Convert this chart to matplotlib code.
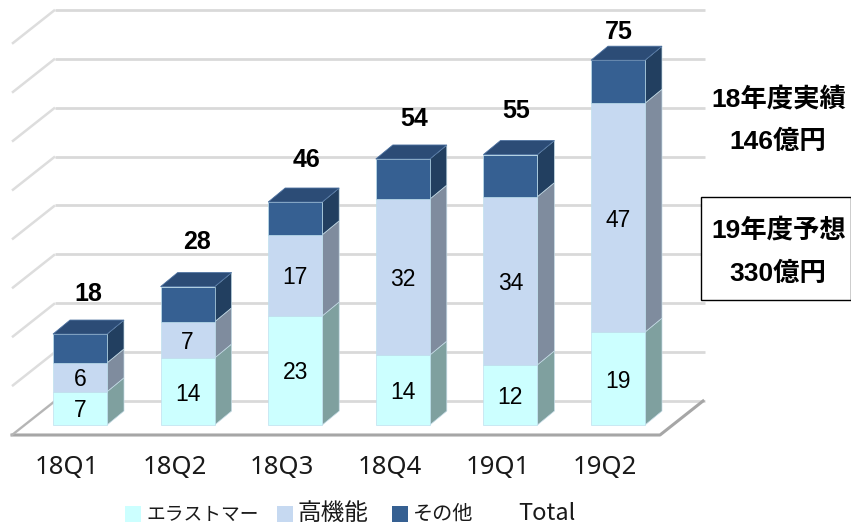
import numpy as np
import matplotlib.pyplot as plt
from matplotlib.patches import Patch, Polygon, Rectangle

quarters = ['18Q1', '18Q2', '18Q3', '18Q4', '19Q1', '19Q2']
# bar heights, the printed labels are rounded
elastomer = [6.8, 13.7, 22.3, 14.3, 12.3, 19.0]
high_func = [5.9, 7.4, 16.6, 31.9, 34.4, 46.8]
other = [5.9, 7.2, 6.7, 8.2, 8.6, 8.8]
elastomer_labels = [7, 14, 23, 14, 12, 19]
high_func_labels = [6, 7, 17, 32, 34, 47]
total_labels = [18, 28, 46, 54, 55, 75]
grid_values = [0, 10, 20, 30, 40, 50, 60, 70, 80]
legend_labels = ['エラストマー', '高機能', 'その他', 'Total']

plt.rcParams['font.family'] = ['Liberation Sans', 'Noto Sans CJK JP']

# one category = 107.6 px, one unit of value = 4.89 px
PX_X = 107.6
PX_Y = 4.89
BAR_W = 54 / PX_X
DX = 17 / PX_X
DY = 14 / PX_Y


def xpx(p):
    return (p - 80) / PX_X


def ypx(p):
    return (425 - p) / PX_Y


fig = plt.figure(figsize=(8.51, 5.25), dpi=100)
ax = fig.add_axes([0, 0, 1, 1])
ax.set_xlim(xpx(0), xpx(851))
ax.set_ylim(ypx(525), ypx(0))
ax.axis('off')

# back wall and left wall grid
floor_back = ypx(401)
floor_front = ypx(435)
for v in grid_values:
    y = floor_back + v
    ax.plot([xpx(55), xpx(705)], [y, y], color='#d9d9d9', lw=2, zorder=1,
            solid_capstyle='butt')
    ax.plot([xpx(12), xpx(55)], [y + floor_front - floor_back, y], color='#dddddd', lw=1.8,
            zorder=1, solid_capstyle='butt')

# floor
ax.plot([xpx(12), xpx(660), xpx(703)], [floor_front, floor_front, floor_back],
        color='#a6a6a6', lw=2.2, zorder=1.5)
ax.plot([xpx(12), xpx(55)], [floor_front, floor_back], color='#b5b5b5', lw=1.5, zorder=1.5)

series = [
    (elastomer, '#ccffff', '#7fa09f'),
    (high_func, '#c6d9f1', '#7f8c9e'),
    (other, '#366092', '#223f60'),
]

x = np.arange(len(quarters))
bottom = np.zeros(len(quarters))
for vals, front, side in series:
    vals = np.array(vals, dtype=float)
    ax.bar(x, vals, BAR_W, bottom=bottom, color=front, edgecolor='#bfe0ee', lw=0.5, zorder=3)
    for i in x:
        xr = i + BAR_W / 2
        b, t = bottom[i], bottom[i] + vals[i]
        ax.add_patch(Polygon([(xr, b), (xr + DX, b + DY), (xr + DX, t + DY), (xr, t)],
                             facecolor=side, edgecolor='#c4dbe6', lw=0.5, zorder=2.5))
    bottom = bottom + vals
tops = bottom

# top faces
for i in x:
    xl, xr = i - BAR_W / 2, i + BAR_W / 2
    ax.add_patch(Polygon([(xl, tops[i]), (xr, tops[i]), (xr + DX, tops[i] + DY),
                          (xl + DX, tops[i] + DY)],
                         facecolor='#2c4c76', edgecolor='#4a6f9e', lw=0.6, zorder=3))

# values inside the bars
bottom = np.zeros(len(quarters))
for vals, labels in ((elastomer, elastomer_labels), (high_func, high_func_labels)):
    for i in x:
        ax.text(i, bottom[i] + vals[i] / 2, str(labels[i]), ha='center', va='center_baseline',
                fontsize=16.5, color='black', zorder=5)
    bottom = bottom + np.array(vals)

# totals above the bars
total_dx = [8, 9, 11, 11, 6, 1]
total_dy = [43, 47, 45, 42, 46, 31]
for i in x:
    ax.text(i + total_dx[i] / PX_X, tops[i] + total_dy[i] / PX_Y, str(total_labels[i]),
            ha='center', va='center_baseline', fontsize=18, fontweight='bold', zorder=5)

# category labels
for i in x:
    ax.text(i - 13 / PX_X, ypx(468), quarters[i], ha='center', va='center', fontsize=18.5,
            family=['Noto Sans', 'Noto Sans CJK JP'], color='#1a1a1a')

# side notes
ax.text(xpx(779), ypx(99), '18年度実績', ha='center', va='center', fontsize=19, fontweight='bold')
ax.text(xpx(778), ypx(142), '146億円', ha='center', va='center', fontsize=19, fontweight='bold')
ax.add_patch(Rectangle((xpx(701), ypx(300)), 150 / PX_X, 103 / PX_Y, facecolor='white',
                       edgecolor='black', lw=1, zorder=4))
ax.text(xpx(779), ypx(230), '19年度予想', ha='center', va='center', fontsize=19,
        fontweight='bold', zorder=5)
ax.text(xpx(778), ypx(274), '330億円', ha='center', va='center', fontsize=19,
        fontweight='bold', zorder=5)

# legend, drawn by hand so each entry can sit where the reference has it
legend_colors = ['#ccffff', '#c6d9f1', '#366092']
legend_box_x = [125, 277, 392]
legend_text_x = [146, 297, 413, 518]
legend_sizes = [13.5, 17, 14.5, 17]
for color, bx in zip(legend_colors, legend_box_x):
    ax.add_patch(Rectangle((xpx(bx), ypx(522)), 16 / PX_X, 16 / PX_Y, facecolor=color,
                           edgecolor='none'))
for label, tx, size in zip(legend_labels, legend_text_x, legend_sizes):
    ax.text(xpx(tx), ypx(514), label, ha='left', va='center', fontsize=size, color='#1a1a1a',
            family=['Noto Sans CJK JP'])

fig.savefig('out.png', dpi=100)
